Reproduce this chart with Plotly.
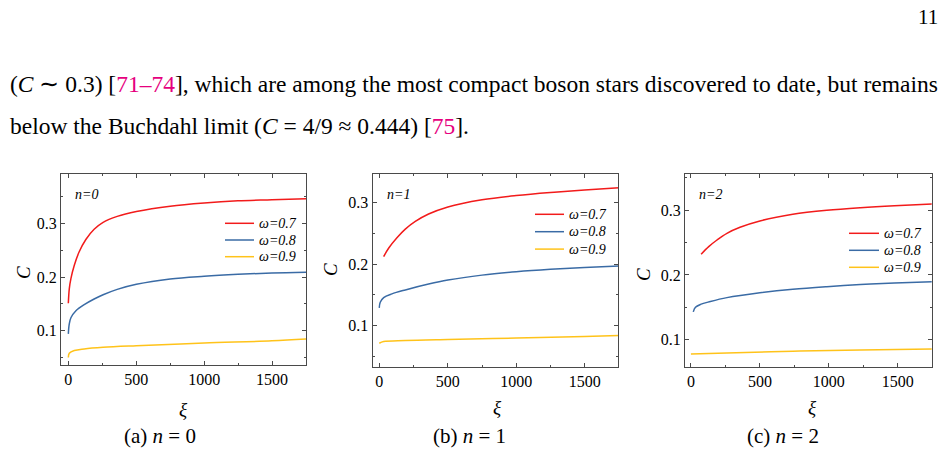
import plotly.graph_objects as go

W, H = 944, 452

# ---------------- data ----------------
omegas = ["0.7", "0.8", "0.9"]

# panel (a) n=0
xi_a_07 = [0, 7, 19, 44, 80, 129, 190, 256, 360, 501, 750, 1000, 1249, 1499, 1750]
C_a_07 = [0.151, 0.178, 0.197, 0.222, 0.247, 0.270, 0.289, 0.302, 0.313, 0.322, 0.332, 0.338, 0.342, 0.344, 0.346]
xi_a_08 = [0, 7, 19, 56, 117, 190, 256, 360, 501, 750, 1000, 1249, 1499, 1750]
C_a_08 = [0.094, 0.1125, 0.124, 0.137, 0.1485, 0.159, 0.167, 0.177, 0.1865, 0.1965, 0.2015, 0.205, 0.2075, 0.209]
xi_a_09 = [0, 7, 44, 117, 256, 501, 1000, 1499, 1750]
C_a_09 = [0.050, 0.058, 0.063, 0.066, 0.069, 0.072, 0.077, 0.081, 0.0845]

# panel (b) n=1
xi_b_07 = [32, 68, 129, 190, 263, 360, 501, 750, 1000, 1249, 1499, 1750]
C_b_07 = [0.212, 0.2255, 0.2425, 0.2565, 0.269, 0.281, 0.2925, 0.304, 0.311, 0.316, 0.320, 0.3235]
xi_b_08 = [0, 7, 32, 92, 190, 360, 501, 750, 1000, 1249, 1499, 1750]
C_b_08 = [0.129, 0.138, 0.1456, 0.1516, 0.158, 0.1675, 0.174, 0.182, 0.1875, 0.1915, 0.1945, 0.197]
xi_b_09 = [0, 32, 190, 501, 1000, 1499, 1750]
C_b_09 = [0.0716, 0.0743, 0.076, 0.0777, 0.0800, 0.0825, 0.084]

# panel (c) n=2
xi_c_07 = [74, 129, 189, 261, 356, 500, 739, 985, 1229, 1476, 1750]
C_c_07 = [0.232, 0.2438, 0.254, 0.2644, 0.2737, 0.2835, 0.2938, 0.300, 0.304, 0.307, 0.3095]
xi_c_08 = [17, 33, 69, 141, 261, 500, 739, 985, 1229, 1476, 1750]
C_c_08 = [0.143, 0.150, 0.1545, 0.159, 0.165, 0.1725, 0.178, 0.182, 0.1852, 0.1875, 0.1895]
xi_c_09 = [0, 261, 739, 1229, 1750]
C_c_09 = [0.0778, 0.0795, 0.0822, 0.0841, 0.0856]

x_ticks = [0, 500, 1000, 1500]
y_ticks = [0.1, 0.2, 0.3]
panel_labels = ["n=0", "n=1", "n=2"]
captions = ["(a) <i>n</i> = 0", "(b) <i>n</i> = 1", "(c) <i>n</i> = 2"]

# ---------------- style ----------------
colors = ["#F21B1B", "#3A6BA5", "#FFC31A"]
serif = "Liberation Serif"
axcol = "#4a4a4a"

panels = [
    dict(xs=[xi_a_07, xi_a_08, xi_a_09], ys=[C_a_07, C_a_08, C_a_09],
         px=(61, 306), py=(174, 365), xr=[-54, 1750], yr=[0.036, 0.392],
         leg=(225, 254, 223.3, 16.7), lab=(73, 194), cap=160, xil=(183, 409), cl=(23, 273)),
    dict(xs=[xi_b_07, xi_b_08, xi_b_09], ys=[C_b_07, C_b_08, C_b_09],
         px=(372.7, 618.3), py=(174, 366.7), xr=[-48, 1745], yr=[0.0336, 0.3459],
         leg=(535, 564, 214.3, 17.4), lab=(385, 194), cap=469, xil=(497, 407), cl=(330, 270)),
    dict(xs=[xi_c_07, xi_c_08, xi_c_09], ys=[C_c_07, C_c_08, C_c_09],
         px=(685, 931.7), py=(174, 366.7), xr=[-43, 1746], yr=[0.0583, 0.356],
         leg=(849, 879, 233.3, 17.0), lab=(697, 194), cap=783, xil=(812, 407), cl=(643, 275)),
]

fig = go.Figure()
annotations = []
shapes = []

def fx(p):
    return p / W

def fy(p):
    return 1 - p / H

for i, P in enumerate(panels):
    k = "" if i == 0 else str(i + 1)
    for j in range(3):
        fig.add_trace(go.Scatter(
            x=P["xs"][j], y=P["ys"][j], mode="lines",
            line=dict(color=colors[j], width=1.5, shape="spline", smoothing=1.0),
            xaxis="x" + k, yaxis="y" + k, showlegend=False, hoverinfo="skip"))
    common = dict(showline=True, linecolor=axcol, linewidth=1.3, mirror="allticks",
                  ticks="inside", ticklen=4, tickwidth=1.2, tickcolor=axcol,
                  showgrid=False, zeroline=False,
                  tickfont=dict(family=serif, size=16, color="black"))
    fig.layout["xaxis" + k] = dict(
        domain=[fx(P["px"][0]), fx(P["px"][1])], range=P["xr"], anchor="y" + k,
        tickvals=x_ticks, ticktext=[str(v) for v in x_ticks],
        minor=dict(dtick=250, ticks="inside", ticklen=2, tickcolor=axcol, tickwidth=1),
        **common)
    fig.layout["yaxis" + k] = dict(
        domain=[fy(P["py"][1]), fy(P["py"][0])], range=P["yr"], anchor="x" + k,
        tickvals=y_ticks, ticktext=["0.1", "0.2", "0.3"],
        minor=dict(dtick=0.05, tick0=0, ticks="inside", ticklen=2, tickcolor=axcol, tickwidth=1),
        **common)

    # legend samples
    x0, x1, y0, dy = P["leg"]
    for j in range(3):
        yy = y0 + j * dy
        shapes.append(dict(type="line", xref="paper", yref="paper",
                           x0=fx(x0), x1=fx(x1), y0=fy(yy), y1=fy(yy),
                           line=dict(color=colors[j], width=1.5)))
        annotations.append(dict(x=fx(x1 + 3), y=fy(yy), xref="paper", yref="paper",
                                text="<i>ω=" + omegas[j] + "</i>", showarrow=False,
                                xanchor="left", yanchor="middle",
                                font=dict(family=serif, size=14, color="black")))
    # panel label
    annotations.append(dict(x=fx(P["lab"][0]), y=fy(P["lab"][1]), xref="paper", yref="paper",
                            text="<i>" + panel_labels[i] + "</i>", showarrow=False,
                            xanchor="left", yanchor="middle",
                            font=dict(family=serif, size=14, color="black")))
    # axis titles
    annotations.append(dict(x=fx(P["xil"][0]), y=fy(P["xil"][1]), xref="paper", yref="paper",
                            text="<i>ξ</i>", showarrow=False, xanchor="center", yanchor="middle",
                            font=dict(family=serif, size=19, color="black")))
    annotations.append(dict(x=fx(P["cl"][0]), y=fy(P["cl"][1]), xref="paper", yref="paper",
                            text="<i>C</i>", showarrow=False, xanchor="center", yanchor="middle",
                            textangle=-90, font=dict(family=serif, size=19, color="black")))
    # caption
    annotations.append(dict(x=fx(P["cap"]), y=fy(436), xref="paper", yref="paper",
                            text=captions[i], showarrow=False, xanchor="center", yanchor="middle",
                            font=dict(family=serif, size=21, color="black")))

mag = "#E6007E"
line1 = ("(<i>C</i> ∼ 0.3) [<span style='color:%s'>71–74</span>], which are among the most "
         "compact boson stars discovered to date, but remains" % mag)
line2 = ("below the Buchdahl limit (<i>C</i> = 4/9 ≈ 0.444) [<span style='color:%s'>75</span>]." % mag)
annotations.append(dict(x=fx(8), y=fy(84), xref="paper", yref="paper", text=line1,
                        showarrow=False, xanchor="left", yanchor="middle",
                        font=dict(family=serif, size=23.5, color="black")))
annotations.append(dict(x=fx(8), y=fy(126), xref="paper", yref="paper", text=line2,
                        showarrow=False, xanchor="left", yanchor="middle",
                        font=dict(family=serif, size=23.5, color="black")))
annotations.append(dict(x=fx(940), y=fy(17), xref="paper", yref="paper", text="11",
                        showarrow=False, xanchor="right", yanchor="middle",
                        font=dict(family=serif, size=21, color="black")))

fig.update_layout(width=W, height=H, margin=dict(l=0, r=0, t=0, b=0),
                  paper_bgcolor="white", plot_bgcolor="white",
                  annotations=annotations, shapes=shapes, showlegend=False)

fig.write_html("out.html")
